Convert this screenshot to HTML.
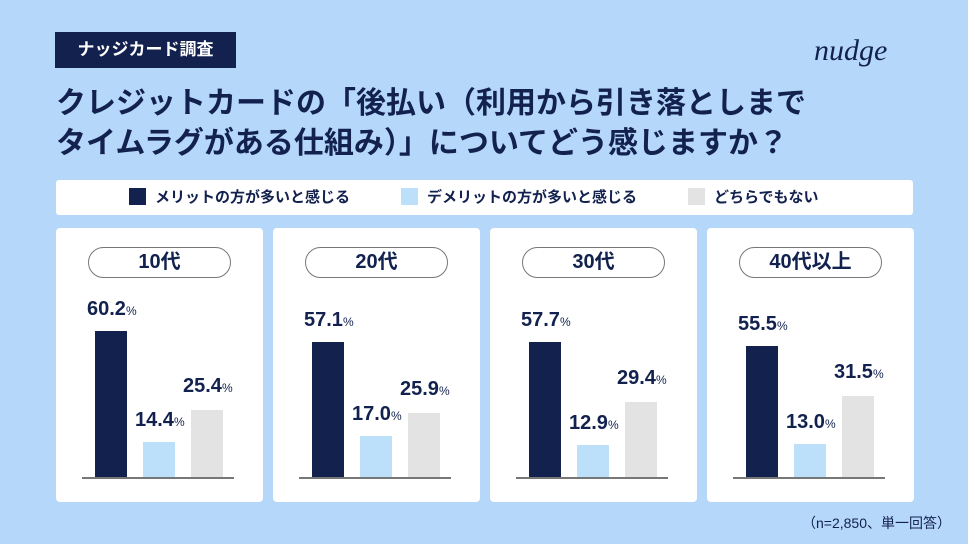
<!DOCTYPE html><html><head><meta charset="utf-8"><style>
body{margin:0;width:968px;height:544px;background:#b5d7f9;position:relative;overflow:hidden;font-family:"Liberation Sans","Noto Sans CJK JP",sans-serif;color:#12214e}
.a{position:absolute}
.badge{left:55px;top:32px;width:181px;height:36px;background:#12214e;color:#fff;font-weight:bold;font-size:17px;line-height:36px;text-align:center}
.t{left:56px;font-size:30px;font-weight:bold;letter-spacing:0px;white-space:nowrap}
.leg{left:56px;top:180px;width:857px;height:35px;background:#fff;border-radius:3px}
.li{top:0;line-height:35px;font-size:15px;font-weight:bold;white-space:nowrap}
.li i{display:inline-block;width:17px;height:17px;vertical-align:-3px;margin-right:9px}
.p{top:228px;width:207px;height:274px;background:#fff;border-radius:4px}
.pill{left:32px;top:19px;width:141px;height:29px;border:1.5px solid #777;border-radius:16px;text-align:center;line-height:29px;font-size:20px;font-weight:bold}
.base{left:26px;top:249px;width:152px;height:1.5px;background:#777}
.b{width:32px}
.v{font-size:20px;font-weight:bold;white-space:nowrap}
.v small{font-size:12px;font-weight:normal}
</style></head><body>
<div class="a badge">ナッジカード調査</div>
<div class="a t" style="top:78px">クレジットカードの「後払い（利用から引き落としまで</div>
<div class="a t" style="top:118px">タイムラグがある仕組み）」についてどう感じますか？</div>
<svg class="a" style="left:812px;top:36px" width="90" height="34" viewBox="0 0 90 34"><text x="2" y="24" font-family="Liberation Serif,serif" font-style="italic" font-size="30" fill="#12214e">nudge</text></svg>
<div class="a leg">
<div class="a li" style="left:73px"><i style="background:#12214e"></i>メリットの方が多いと感じる</div>
<div class="a li" style="left:345px"><i style="background:#bcdffa"></i>デメリットの方が多いと感じる</div>
<div class="a li" style="left:632px"><i style="background:#e3e3e3"></i>どちらでもない</div>
</div>
<div id="c"></div>
<div class="a" style="left:802px;top:513px;font-size:14px">（n=2,850、単一回答）</div>
<script>
var d=[["10代",60.2,14.4,25.4,331,442,410],["20代",57.1,17.0,25.9,342,436,413],["30代",57.7,12.9,29.4,342,445,402],["40代以上",55.5,13.0,31.5,346,444,396]];
var cols=["#12214e","#bcdffa","#e3e3e3"],h="";
d.forEach(function(r,i){
 var s='<div class="a p" style="left:'+(56+i*217)+'px"><div class="a pill">'+r[0]+'</div>';
 for(var k=0;k<3;k++){var top=r[k+4]-228,ht=250-top,x=39+k*48;
  s+='<div class="a b" style="left:'+x+'px;top:'+top+'px;height:'+ht+'px;background:'+cols[k]+'"></div>';
  s+='<div class="a v" style="left:'+(x-8)+'px;top:'+(top-(k==2?35:33))+'px">'+r[k+1].toFixed(1)+'<small>%</small></div>';}
 s+='<div class="a base"></div></div>';h+=s;});
document.getElementById("c").innerHTML=h;
</script>
</body></html>
